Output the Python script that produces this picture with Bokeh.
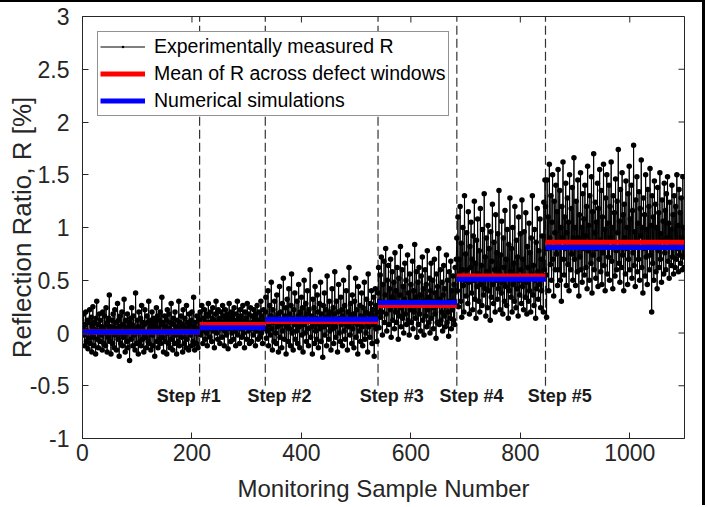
from bokeh.plotting import figure
from bokeh.models import Range1d, FixedTicker, Legend, LegendItem
from bokeh.core.properties import value
from bokeh.embed import file_html
from bokeh.resources import INLINE

# ---------------- data ----------------
seg1 = [0.05,0.18,-0.02,-0.12,0.08,0.2,-0.08,0.02,0.12,-0.15,-0.05,0.1,0.22,-0.1,0.0,0.15,-0.18,0.06,0.25,-0.04,
        -0.12,0.1,0.03,-0.2,0.14,0.3,-0.06,0.08,-0.14,0.02,0.18,-0.08,0.12,-0.02,0.06,-0.16,0.2,0.04,-0.1,0.16,
        0.0,-0.12,0.24,0.08,-0.18,0.1,-0.04,0.14,0.36,-0.08,0.06,-0.2,0.02,0.12,-0.1,0.18,0.05,-0.14,0.22,-0.02,
        0.1,-0.16,0.04,0.28,-0.06,0.12,-0.22,0.06,0.16,-0.1,0.0,0.2,-0.12,0.08,-0.04,0.32,0.02,-0.18,0.12,0.04,
        -0.08,0.18,-0.14,0.06,0.1,-0.26,0.02,0.14,-0.06,0.24,0.08,-0.12,0.16,-0.02,0.04,-0.16,0.38,0.0,-0.1,0.12,
        0.06,-0.2,0.2,0.02,-0.08,0.14,-0.12,0.26,0.04,-0.06,0.1,-0.18,0.08,0.22,-0.04,0.0,-0.14,0.16,0.1,-0.08,
        0.3,-0.1,0.04,0.12,-0.16,0.08,0.2,-0.02,-0.12,0.14,0.06,-0.22,0.1,0.02,0.24,-0.08,0.16,-0.14,0.04,0.12,
        -0.06,0.2,-0.1,0.08,0.34,-0.04,0.1,-0.18,0.02,0.16,-0.08,0.06,0.12,-0.2,0.22,0.0,-0.1,0.18,0.04,-0.14,
        0.1,0.28,-0.06,0.02,-0.16,0.14,0.08,-0.1,0.2,-0.02,0.06,-0.2,0.12,0.04,-0.08,0.3,-0.12,0.1,0.0,0.16,
        -0.04,0.08,-0.18,0.22,0.06,-0.1,0.14,0.02,-0.14,0.26,-0.06,0.1,0.04,-0.16,0.18,0.08,-0.02,0.12,-0.12,0.2,
        0.02,-0.08,0.34,0.06,-0.16,0.1,0.0,-0.1,0.16,0.04,-0.14,0.12,0.02]
seg2 = [0.12,0.2,-0.02,0.08,0.26,0.02,-0.1,0.14,0.06,0.22,-0.06,0.1,0.18,0.0,-0.12,0.16,0.28,0.04,0.1,-0.04,
        0.2,0.06,-0.08,0.14,0.24,0.02,0.12,-0.14,0.08,0.18,0.3,0.0,0.1,-0.06,0.22,0.06,0.14,-0.1,0.04,0.2,
        0.1,-0.04,0.26,0.08,0.16,-0.12,0.02,0.22,0.12,-0.02,0.18,0.06,-0.15,0.14,0.28,0.04,0.1,-0.08,0.2,0.0,
        0.16,0.08,-0.06,0.24,0.12,0.02,-0.12,0.18,0.06,0.3,-0.02,0.1,0.14,-0.1,0.22,0.04,0.16,-0.04,0.08,0.26,
        0.0,0.12,-0.14,0.2,0.06,0.14,-0.06,0.28,0.1,0.02,0.18,-0.1,0.08,0.24,0.04,-0.08,0.16,0.1,-0.02,0.22,
        0.06,0.14,-0.12,0.18,0.02,0.26,0.1,-0.06,0.12,0.2,-0.04,0.08,0.3,0.0,0.16,-0.1,0.1,0.22,0.04,0.12]
seg3 = [0.2,0.34,-0.05,0.12,0.02,0.4,-0.12,0.08,0.26,-0.02,0.16,0.48,0.04,-0.16,0.22,0.1,-0.08,0.3,0.14,0.0,
        -0.1,0.36,0.06,0.18,-0.18,0.12,0.44,-0.04,0.2,0.08,-0.14,0.28,0.02,0.52,0.1,-0.06,0.16,0.24,-0.2,0.06,
        0.32,0.12,-0.08,0.42,0.04,0.18,-0.12,0.26,0.56,0.0,0.14,-0.16,0.22,0.08,0.38,-0.06,0.12,0.02,0.3,-0.1,
        0.16,0.46,0.06,-0.14,0.2,0.1,0.34,-0.02,0.24,-0.18,0.08,0.5,0.14,0.0,0.28,-0.08,0.18,0.4,0.04,-0.12,
        0.22,0.12,0.6,-0.04,0.16,0.06,-0.2,0.32,0.1,0.24,-0.1,0.44,0.02,0.14,-0.06,0.36,0.2,-0.14,0.08,0.28,
        0.04,0.48,-0.08,0.18,0.12,-0.23,0.26,0.06,0.38,-0.02,0.14,0.22,-0.12,0.54,0.08,0.16,-0.06,0.3,0.02,0.2,
        -0.16,0.1,0.42,0.04,0.24,-0.1,0.18,0.58,0.06,-0.04,0.3,0.12,-0.18,0.2,0.46,0.0,0.14,-0.08,0.34,0.08,
        0.22,-0.12,0.16,0.5,0.02,0.26,-0.06,0.12,0.4,0.08,-0.16,0.2,0.06,0.62,0.1,-0.02,0.28,0.14,-0.1,0.36,
        0.04,0.18,-0.14,0.3,0.1,0.52,-0.04,0.22,0.08,-0.2,0.44,0.12,0.02,0.26,-0.08,0.16,0.38,0.06,-0.12,0.24,
        0.14,0.48,-0.06,0.2,0.0,0.32,0.1,-0.18,0.56,0.06,0.18,-0.04,0.28,0.12,0.4,-0.1,0.22,0.08,0.34,-0.22,
        0.16,0.42,0.04,0.26,-0.08,0.2]
seg4 = [0.38,0.62,0.05,0.3,0.55,0.15,0.72,0.2,-0.02,0.46,0.28,0.68,0.1,0.36,0.8,0.18,0.02,0.5,0.26,0.64,
        0.08,0.42,0.22,0.7,-0.04,0.34,0.58,0.12,0.3,0.48,0.04,0.76,0.2,0.4,0.1,0.62,0.26,-0.06,0.52,0.16,
        0.36,0.82,0.06,0.24,0.6,0.14,0.44,0.0,0.32,0.66,0.18,0.5,0.08,0.28,0.74,0.12,0.38,-0.02,0.56,0.22,
        0.46,0.1,0.3,0.68,0.04,0.4,0.2,0.84,0.14,0.34,0.58,-0.04,0.26,0.48,0.08,0.62,0.18,0.36,0.02,0.54,
        0.28,0.72,0.12,0.42,-0.02,0.3,0.6,0.16,0.46,0.06,0.78,0.22,0.34,0.1,0.52,0.0,0.4,0.66,0.14,0.3,
        0.5,0.04,0.24,0.7,0.18,0.38,-0.05,0.56,0.1,0.44,0.26,0.8,0.08,0.32,0.6,0.12,0.2,0.48,0.02,0.36,
        0.64,0.16,0.42,0.06,0.28,0.74,0.1,0.5,0.2,-0.03,0.58,0.3,0.14,0.68,0.04,0.4,0.22,0.54,0.12,0.46,
        0.08,0.62,0.26,0.7]
seg5 = [0.9,0.4,1.1,0.25,0.7,0.55,1.2,0.3,0.85,0.15,0.6,1.0,0.45,0.2,1.3,0.5,0.75,0.35,0.95,0.6,
        0.28,1.15,0.48,0.18,0.82,0.62,1.05,0.38,0.7,0.22,0.92,0.5,1.25,0.32,0.66,0.14,0.88,0.44,1.08,0.56,
        0.3,0.78,0.2,1.18,0.46,0.64,0.26,0.98,0.52,0.36,1.32,0.42,0.72,0.16,0.9,0.58,0.24,1.02,0.4,0.8,
        0.54,0.12,0.96,0.34,0.68,1.22,0.46,0.28,0.86,0.6,0.2,1.12,0.5,0.76,0.32,0.94,0.42,1.35,0.56,0.22,
        0.74,0.38,1.06,0.48,0.18,0.9,0.62,0.3,1.16,0.44,0.7,0.26,0.98,0.52,0.14,0.84,0.4,1.28,0.58,0.34,
        0.8,0.2,1.0,0.46,0.66,0.3,1.2,0.54,0.24,0.88,0.42,0.72,0.16,1.1,0.5,0.36,0.94,0.6,0.28,1.26,
        0.44,0.7,0.22,0.96,0.52,0.34,1.14,0.48,0.18,0.82,0.62,0.3,1.04,0.4,0.76,0.2,0.9,0.56,1.3,0.36,
        0.64,0.26,0.98,0.5,0.14,0.86,0.42,1.18,0.58,0.32,0.78,0.46,1.08,0.24,0.7,0.4,0.92,0.54,0.2,1.24,
        0.6,1.45]
seg6 = [1.2,0.55,0.15,1.45,0.8,1.1,0.4,1.6,0.9,0.65,1.3,0.5,1.05,1.5,0.7,0.35,1.25,0.95,0.6,1.4,
        0.75,1.15,0.45,1.55,0.85,0.6,1.35,0.5,1.0,0.3,1.2,0.9,1.62,0.7,0.55,1.1,0.8,1.42,0.45,0.95,
        1.28,0.65,1.05,0.4,1.5,0.85,0.6,1.18,0.75,1.38,0.5,0.9,1.66,0.7,1.0,0.45,1.25,0.82,0.58,1.45,
        0.9,0.35,1.12,0.72,1.52,0.6,1.0,0.48,1.32,0.8,1.08,0.55,1.4,0.92,0.62,1.2,0.42,1.58,0.78,1.02,
        0.5,1.3,0.86,0.66,1.48,0.38,1.15,0.74,1.7,0.6,0.95,1.24,0.52,1.05,0.8,1.42,0.44,1.18,0.7,1.55,
        0.88,0.58,1.35,0.46,1.1,0.76,1.6,0.64,0.98,0.4,1.28,0.84,1.5,0.56,1.04,0.72,1.4,0.5,1.2,0.9,
        1.62,0.68,1.0,0.42,1.3,0.82,1.14,0.54,1.46,0.78,0.6,1.25,0.95,1.74,0.66,1.06,0.48,1.36,0.86,0.62,
        1.52,0.74,1.12,0.4,1.22,0.9,0.56,1.44,0.8,1.0,0.46,1.32,0.7,1.58,0.6,1.08,0.84,1.4,0.52,1.16,
        0.76,1.78,0.64,0.96,0.44,1.26,0.82,1.48,0.58,1.04,0.7,1.34,0.5,1.18,0.92,1.64,0.62,1.0,0.38,1.28,
        0.8,1.12,0.54,1.5,0.72,0.98,0.46,1.36,0.86,1.2,0.6,1.56,0.74,1.02,0.2,1.3,0.66,1.1,0.5,1.44,
        0.84,1.22,0.58,1.0,0.42,1.38,0.78,1.14,0.62,1.52,0.7,0.94,0.48,1.26,0.88,1.06,0.56,1.42,0.76,1.16,
        0.6,1.32,0.9,1.48,0.68,1.04,0.52,1.24,0.82,0.98,0.64,1.4,0.72,1.12,0.56,1.3,0.86,0.62,1.2,0.7,
        1.5,0.8,1.02,0.58,1.36,0.74,1.14,0.66,1.28,0.9,0.6,1.48,0.72,1.0,0.62]
measured_R = seg1 + seg2 + seg3 + seg4 + seg5 + seg6
sample_number = list(range(1, len(measured_R) + 1))

window_start = [0, 214, 334, 540, 684, 846]
window_end = [214, 334, 540, 684, 846, 1100]
mean_R = [0.01, 0.08, 0.11, 0.26, 0.54, 0.86]
simulated_R = [0.01, 0.05, 0.13, 0.29, 0.51, 0.81]

step_positions = [214, 334, 540, 684, 846]
step_labels = ["Step #1", "Step #2", "Step #3", "Step #4", "Step #5"]
step_label_x = [194, 360, 565, 711, 872]

x_ticks = [0, 200, 400, 600, 800, 1000]
y_ticks = [-1, -0.5, 0, 0.5, 1, 1.5, 2, 2.5, 3]
y_tick_labels = ["-1", "-0.5", "0", "0.5", "1", "1.5", "2", "2.5", "3"]

# ---------------- figure ----------------
TXT = "#262626"
FONT = "Liberation Sans"
X0, X1, Y0, Y1 = 0, 1100, -1, 3
FRAME_W, FRAME_H = 602, 422
TICK = 6

p = figure(width=705, height=505, x_range=Range1d(X0, X1), y_range=Range1d(Y0, Y1),
           output_backend="svg", toolbar_location=None,
           min_border_left=82, min_border_right=21, min_border_top=14, min_border_bottom=69)
p.styles = {"position": "absolute", "top": "0px", "left": "0px",
            "border-top": "2px solid black", "border-right": "3px solid black"}
p.background_fill_color = "white"
p.border_fill_color = "white"
p.outline_line_color = TXT
p.xgrid.visible = False
p.ygrid.visible = False

for ax, ticks, standoff in ((p.xaxis[0], x_ticks, 5), (p.yaxis[0], y_ticks, 13)):
    ax.ticker = FixedTicker(ticks=ticks)
    ax.major_tick_in = TICK
    ax.major_tick_out = 0
    ax.minor_tick_in = 0
    ax.minor_tick_out = 0
    ax.axis_line_color = TXT
    ax.major_tick_line_color = TXT
    ax.major_label_text_color = TXT
    ax.major_label_text_font = FONT
    ax.major_label_text_font_size = "23px"
    ax.major_label_standoff = standoff
    ax.axis_label_text_font = FONT
    ax.axis_label_text_font_style = "normal"
    ax.axis_label_text_color = TXT

p.yaxis[0].major_label_overrides = {t: s for t, s in zip(y_ticks, y_tick_labels)}
p.xaxis[0].axis_label = "Monitoring Sample Number"
p.xaxis[0].axis_label_text_font_size = "24px"
p.xaxis[0].axis_label_standoff = 11
p.yaxis[0].axis_label = "Reflection Ratio, R [%]"
p.yaxis[0].axis_label_text_font_size = "26px"
p.yaxis[0].axis_label_standoff = -10

# inward ticks on the top and right edges of the box
dy = TICK * (Y1 - Y0) / FRAME_H
dx = TICK * (X1 - X0) / FRAME_W
p.segment(x0=x_ticks, x1=x_ticks, y0=[Y1] * len(x_ticks), y1=[Y1 - dy] * len(x_ticks),
          line_color=TXT, line_width=1)
p.segment(x0=[X1 - dx] * len(y_ticks), x1=[X1] * len(y_ticks), y0=y_ticks, y1=y_ticks,
          line_color=TXT, line_width=1)

# dashed step separators
p.segment(x0=step_positions, x1=step_positions, y0=[-0.5] * len(step_positions), y1=[Y1] * len(step_positions),
          line_color="#333333", line_width=1.2, line_dash="9 4")

# measured data
line_r = p.line(sample_number, measured_R, line_color="black", line_width=1)
scat_r = p.scatter(sample_number, measured_R, marker="dot", size=22, color="black")

# means and simulations
red_r = p.segment(x0=window_start, x1=window_end, y0=mean_R, y1=mean_R, line_color="#ff0000", line_width=5)
blue_r = p.segment(x0=window_start, x1=window_end, y0=simulated_R, y1=simulated_R, line_color="#0000ff", line_width=5)

# step labels
p.text(x=step_label_x, y=[-0.6] * len(step_label_x), text=step_labels,
       text_font=value(FONT), text_font_style="bold", text_font_size="18px",
       text_align="center", text_baseline="middle", text_color="#1a1a1a")

legend = Legend(items=[LegendItem(label="Experimentally measured R", renderers=[line_r, scat_r]),
                       LegendItem(label="Mean of R across defect windows", renderers=[red_r]),
                       LegendItem(label="Numerical simulations", renderers=[blue_r])],
                location="top_left", margin=15, padding=2, spacing=2,
                label_height=25, glyph_height=25, glyph_width=45, label_standoff=9,
                label_text_font=FONT, label_text_font_size="19.5px", label_text_color="black",
                border_line_color=TXT, border_line_width=1, background_fill_color="white",
                background_fill_alpha=1.0)
p.add_layout(legend)

open("out.html", "w").write(file_html(p, INLINE))
